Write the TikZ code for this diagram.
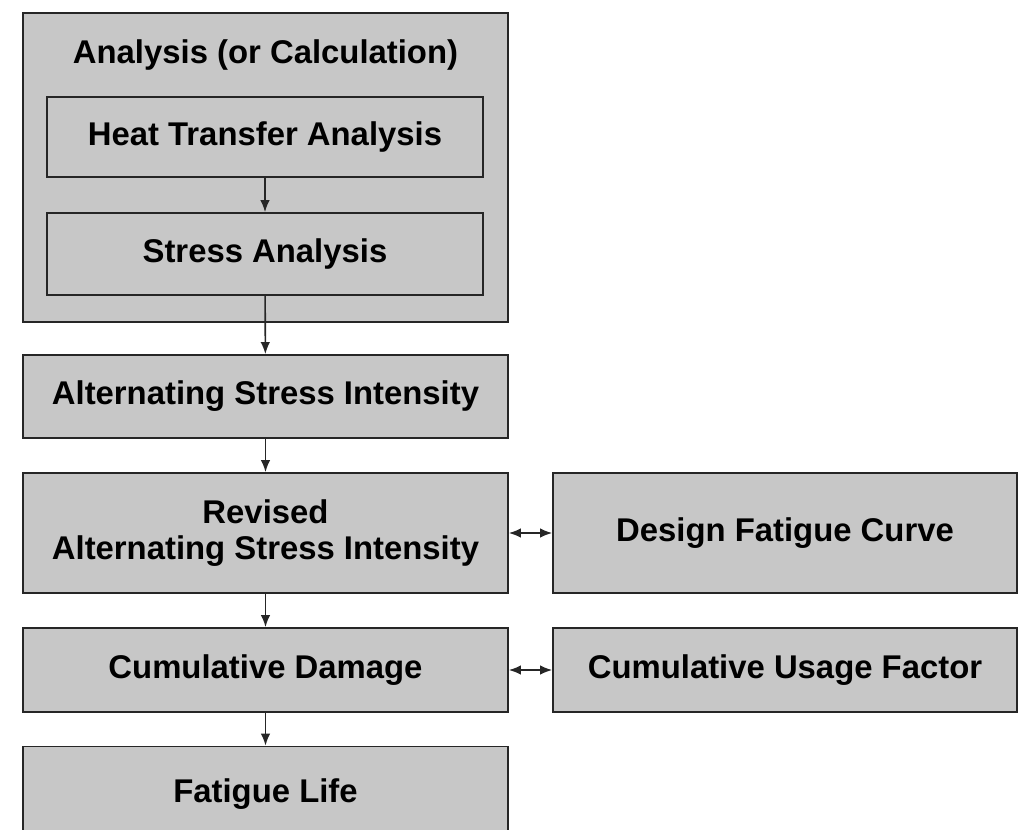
\documentclass[tikz,border=0pt]{standalone}
\usepackage{fontspec}
\setmainfont{Liberation Sans}
\usetikzlibrary{arrows.meta}
\tikzset{>={Latex[length=2.4mm,width=1.9mm]}}
\tikzset{
    box/.style={draw=black!85, line width=1pt, fill=black!22, inner sep=0pt,
        align=center, font=\fontsize{18.7}{20.5}\selectfont\bfseries},
    flow/.style={->, line width=0.9pt, black!85},
    link/.style={<->, line width=0.9pt, black!85}
}

\begin{document}
\begin{tikzpicture}[x=0.02cm, y=-0.02cm]

    \useasboundingbox (0,0) rectangle (1021,829);

    % analysis block
    \node[box, minimum width=9.7cm, minimum height=6.18cm] (analysis) at (265.5,167.5) {};
    \node[font=\fontsize{18.7}{20.5}\selectfont\bfseries] (title) at (265.5,55) {Analysis (or Calculation)};
    \node[box, minimum width=8.72cm, minimum height=1.6cm] (heat) at (265,137) {Heat Transfer Analysis};
    \node[box, minimum width=8.72cm, minimum height=1.64cm] (stress) at (265,254) {Stress Analysis};

    % main column
    \node[box, minimum width=9.7cm, minimum height=1.66cm] (altstress) at (265.5,396.5) {Alternating Stress Intensity};
    \node[box, minimum width=9.7cm, minimum height=2.4cm] (revstress) at (265.5,533) {Revised\\Alternating Stress Intensity};
    \node[box, minimum width=9.7cm, minimum height=1.68cm] (cumdamage) at (265.5,670) {Cumulative Damage};
    \node[box, minimum width=9.7cm, minimum height=1.9cm] (fatiguelife) at (265.5,794) {Fatigue Life};

    % side boxes
    \node[box, minimum width=9.28cm, minimum height=2.4cm] (designcurve) at (785,533) {Design Fatigue Curve};
    \node[box, minimum width=9.28cm, minimum height=1.68cm] (usage) at (785,670) {Cumulative Usage Factor};

    \draw [flow] (heat) -- (stress);
    \draw [flow] (stress) -- (altstress);
    \draw [flow] (altstress) -- (revstress);
    \draw [flow] (revstress) -- (cumdamage);
    \draw [flow] (cumdamage) -- (fatiguelife);

    \draw [link] (revstress) -- (designcurve);
    \draw [link] (cumdamage) -- (usage);

\end{tikzpicture}
\end{document}
